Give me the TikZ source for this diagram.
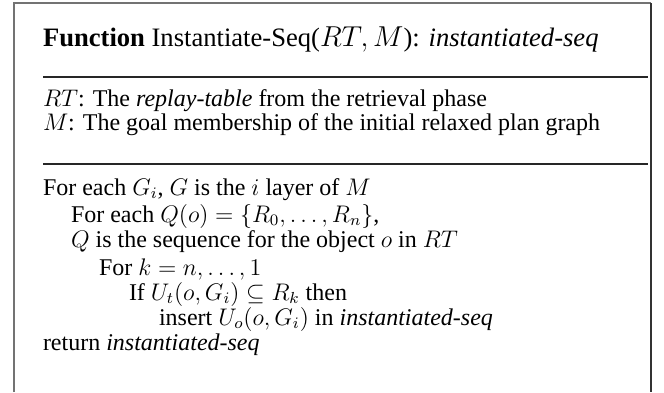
\documentclass[tikz,border=0pt]{standalone}
\usepackage{fontspec}
\setmainfont{Liberation Serif}
\usetikzlibrary{positioning}
\tikzset{
	line/.style={anchor=base west, inner sep=0, outer sep=0, font=\fontsize{12}{14}\selectfont},
	headline/.style={line, font=\fontsize{13.3}{15}\selectfont},
	rule/.style={line width=0.9pt, black!85},
	frame/.style={line width=0.6pt, black!55}
}
\newcommand{\iseq}{\textit{instantiated-seq}}

\begin{document}
\begin{tikzpicture}[x=0.5pt, y=-0.5pt]
			\useasboundingbox (0,0) rectangle (664,392);
			\draw[frame] (14,392) -- (14,3) -- (651,3);
			\draw[frame, black!80] (651,3) -- (651,392);
			\node[headline] (head) at (43,46) {\textbf{Function} Instantiate-Seq($RT, M$): \iseq};
			\draw[rule] (43,77) -- (648,77);
			\node[line] (rt) at (43,106) {$RT$: The \textit{replay-table} from the retrieval phase};
			\node[line] (m) at (43,130) {$M$: The goal membership of the initial relaxed plan graph};
			\draw[rule] (43,164) -- (648,164);
			\node[line] (l1) at (43,195) {For each $G_i$, $G$ is the $i$ layer of $M$};
			\node[line] (l2) at (71,222) {For each $Q(o) = \{R_0, \ldots, R_n\}$,};
			\node[line] (l3) at (71,247) {$Q$ is the sequence for the object $o$ in $RT$};
			\node[line] (l4) at (99,275) {For $k = n, \ldots, 1$};
			\node[line] (l5) at (129,300) {If $U_t(o, G_i) \subseteq R_k$ then};
			\node[line] (l6) at (159,325) {insert $U_o(o, G_i)$ in \iseq};
			\node[line] (l7) at (43,350) {return \iseq};
		\end{tikzpicture}
\end{document}
